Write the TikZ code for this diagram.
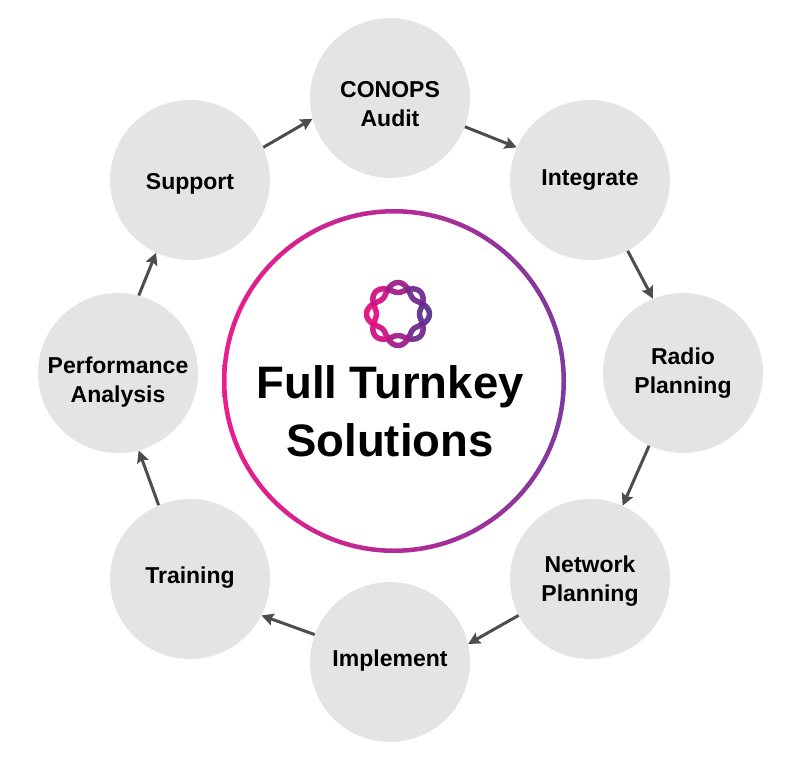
\documentclass[tikz,border=0pt]{standalone}
\usepackage{fontspec}
\setmainfont{Liberation Sans}
\usetikzlibrary{arrows.meta}
\definecolor{stepgray}{HTML}{E4E4E4}
\definecolor{arrowgray}{HTML}{4D4D4D}
\definecolor{ringpink}{HTML}{EC1C8C}
\definecolor{ringpurple}{HTML}{7F3A9E}
\definecolor{logopink}{HTML}{E4097F}
\definecolor{logopurple}{HTML}{5A2D91}
\tikzset{
	stepnode/.style={circle, fill=stepgray, minimum size=160pt, inner sep=0pt},
	steptext/.style={align=center, inner sep=0pt, font=\fontsize{23}{28.5}\selectfont\bfseries},
	flow/.style={draw=arrowgray, line width=3pt, -{Stealth[length=12pt,width=12pt,inset=2pt]}},
	lens/.style={line width=5.5pt, opacity=0.93, line join=round}
}
\begin{document}
\begin{tikzpicture}[x=1pt, y=-1pt]
	\useasboundingbox (0,0) rectangle (797,757);
	% outer steps
	\node[stepnode, label={[steptext, yshift=-6pt]center:{CONOPS\\Audit}}] (conops) at (390,98) {};
	\node[stepnode, label={[steptext]center:{Integrate}}] (integrate) at (590,180) {};
	\node[stepnode, label={[steptext]center:{Radio\\Planning}}] (radio) at (683,373) {};
	\node[stepnode, label={[steptext, yshift=-2pt]center:{Network\\Planning}}] (network) at (590,579) {};
	\node[stepnode, label={[steptext, yshift=1pt]center:{Implement}}] (implement) at (390,662) {};
	\node[stepnode, label={[steptext, yshift=1pt]center:{Training}}] (training) at (190,579) {};
	\node[stepnode, label={[steptext, yshift=-9pt]center:{Performance\\Analysis}}] (performance) at (118,373) {};
	\node[stepnode, label={[steptext, yshift=-4pt]center:{Support}}] (support) at (190,180) {};
	% centre
	\coordinate (hub) at (394,381);
	\path[left color=ringpink, right color=ringpurple, even odd rule]
		(hub) circle (172) (hub) circle (167.5);
	\node[align=center, font=\fontsize{45.5}{58}\selectfont\bfseries] (title) at (390,411) {Full Turnkey\\Solutions};
	% logo
	\begin{scope}[shift={(398,314)}]
		\foreach \p in {0,45,...,315} {
			\pgfmathsetmacro{\pct}{50+50*cos(\p)}
			\draw[lens, draw=logopurple!\pct!logopink]
				plot[domain=\p-22.5:\p+22.5, samples=19] (\x:{26.5+5*cos(4*(\x-\p))})
				-- plot[domain=\p+22.5:\p-22.5, samples=19] (\x:{26.5-5*cos(4*(\x-\p))}) -- cycle;
		}
	\end{scope}
	% arrows
	\draw[flow] (conops.-21) -- (integrate.156);
	\draw[flow] (integrate.-62) -- (radio.112);
	\draw[flow] (radio.-115) -- (network.66);
	\draw[flow] (network.207) -- (implement.13);
	\draw[flow] (implement.160) -- (training.-27);
	\draw[flow] (training.113) -- (performance.-75);
	\draw[flow] (performance.75) -- (support.245);
	\draw[flow] (support.24) -- (conops.195);
\end{tikzpicture}
\end{document}
